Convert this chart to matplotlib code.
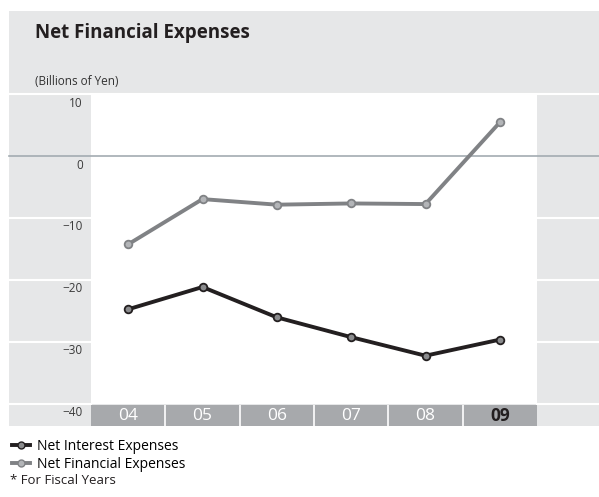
import matplotlib.pyplot as plt
from matplotlib.lines import Line2D

plt.rcParams['font.family'] = ['Open Sans', 'DejaVu Sans']

# datos (miles de millones de yenes)
anios = ['04', '05', '06', '07', '08', '09']
interes_neto = [-24.7, -21.1, -26.0, -29.2, -32.2, -29.6]
financiero_neto = [-14.2, -6.9, -7.8, -7.6, -7.7, 5.5]
ticks_y = [10, 0, -10, -20, -30, -40]
etiquetas_y = ['10', '0', '\u221210', '\u221220', '\u221230', '\u221240']

W, H = 599, 497
gris_fondo = '#e6e7e8'
gris_barra = '#a7a9ac'
negro = '#231f20'
gris_linea = '#808285'

fig = plt.figure(figsize=(W / 100, H / 100), dpi=100)

# fondo en coordenadas de pixel
bg = fig.add_axes([0, 0, 1, 1])
bg.set_xlim(0, W)
bg.set_ylim(H, 0)
bg.axis('off')
bg.add_patch(plt.Rectangle((9, 11), W - 9, 415, color=gris_fondo, lw=0))
bg.axhline(94, xmin=9 / W, color='white', lw=1.5)

# area de datos
x0, x1, y0, y1 = 91, 537, 94.5, 404
ax = fig.add_axes([x0 / W, 1 - y1 / H, (x1 - x0) / W, (y1 - y0) / H])
ax.set_xlim(-0.5, 5.5)
ax.set_ylim(-40, 10)
ax.set_facecolor('white')
for s in ax.spines.values():
    s.set_visible(False)
ax.set_xticks([])
ax.set_yticks([])

# separadores blancos en las columnas grises
tr = ax.get_yaxis_transform()
izq = -(x0 - 9) / (x1 - x0)
der = (W - x0) / (x1 - x0)
for v, lab in zip(ticks_y, etiquetas_y):
    if v not in (10, 0):
        ax.plot([izq, 0], [v, v], transform=tr, color='white', lw=1.5, clip_on=False)
        ax.plot([1, der], [v, v], transform=tr, color='white', lw=1.5, clip_on=False)
    ax.text(-0.018, v - 0.35, lab, transform=tr, ha='right', va='top',
            fontsize=8.5, color='#3a3a3a')

# linea del cero
ax.plot([izq, der], [0, 0], transform=tr, color='#a3acb1', lw=1.2,
        clip_on=False, zorder=1)

x = range(len(anios))
ax.plot(x, interes_neto, color=negro, lw=2.8, marker='o', ms=5.5,
        mfc='#8a8b8d', mec=negro, mew=1.3, zorder=3)
ax.plot(x, financiero_neto, color=gris_linea, lw=2.8, marker='o', ms=5.5,
        mfc='#b3b5b8', mec=gris_linea, mew=1.3, zorder=3)

# barra de anios
bar = fig.add_axes([x0 / W, 1 - 426 / H, (x1 - x0) / W, 21.5 / H])
bar.set_xlim(-0.5, 5.5)
bar.set_ylim(0, 1)
bar.set_facecolor(gris_barra)
for s in bar.spines.values():
    s.set_visible(False)
bar.set_xticks([])
bar.set_yticks([])
for i in range(1, len(anios)):
    bar.axvline(i - 0.5, color='white', lw=1.2)
for i, a in enumerate(anios):
    ultimo = i == len(anios) - 1
    bar.text(i, 0.45, a, ha='center', va='center', fontsize=12.5,
             color='#231f20' if ultimo else 'white',
             fontweight='bold' if ultimo else 'normal')

# textos
fig.text(35 / W, 1 - 33 / H, 'Net Financial Expenses', fontsize=13.5,
         fontweight='bold', va='center', color='#231f20')
fig.text(35 / W, 1 - 81 / H, '(Billions of Yen)', fontsize=8.5,
         va='center', color='#333333')

handles = [
    Line2D([], [], color=negro, lw=2.8, marker='o', ms=5, mfc='#8a8b8d', mec=negro),
    Line2D([], [], color=gris_linea, lw=2.8, marker='o', ms=5, mfc='#b3b5b8', mec=gris_linea),
]
fig.legend(handles, ['Net Interest Expenses', 'Net Financial Expenses'],
           loc='upper left', bbox_to_anchor=(9 / W, 1 - 436 / H), frameon=False,
           handlelength=1.3, handletextpad=0.5, fontsize=10, labelspacing=0.25,
           borderaxespad=0, borderpad=0.2)
fig.text(10 / W, 1 - 481 / H, '* For Fiscal Years', fontsize=9.5, va='center',
         color='#231f20')

plt.savefig('out.png', dpi=100)
